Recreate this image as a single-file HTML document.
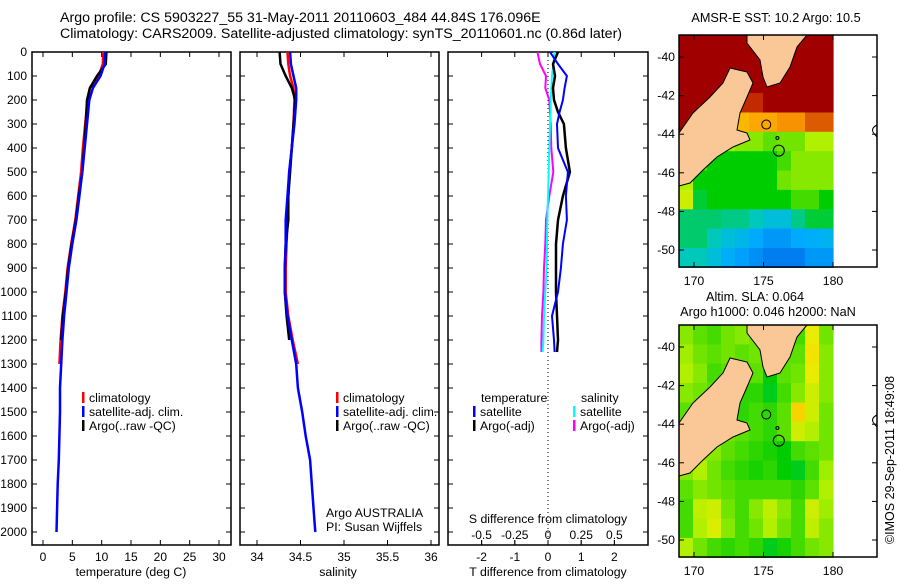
<!DOCTYPE html>
<html><head><meta charset="utf-8"><style>
body{margin:0;background:#fff}
svg text{font-family:"Liberation Sans",sans-serif;fill:#000}
</style></head><body>
<svg id="c" width="900" height="580" xmlns="http://www.w3.org/2000/svg">
<text x="60" y="22" font-size="14.2">Argo profile: CS 5903227_55 31-May-2011 20110603_484 44.84S 176.096E</text>
<text x="60" y="38" font-size="14.2">Climatology: CARS2009. Satellite-adjusted climatology: synTS_20110601.nc (0.86d later)</text>
<text x="776" y="22" font-size="12.7" text-anchor="middle">AMSR-E SST: 10.2 Argo: 10.5</text>
<text x="755" y="301" font-size="12.7" text-anchor="middle">Altim. SLA: 0.064</text>
<text x="768" y="316" font-size="12.7" text-anchor="middle">Argo h1000: 0.046 h2000: NaN</text>
<text x="0" y="0" font-size="12.5" text-anchor="middle" transform="translate(894,460) rotate(-90)">©IMOS 29-Sep-2011 18:49:08</text>
<g id="g"></g>
</svg>
<script>
// depths (m)
const depthsT = [0,50,100,150,200,300,400,500,600,700,800,900,1000,1100,1200,1300,1400,1500,1600,1700,1800,1900,2000];
const tempClim = [10.3,10.2,9.5,8.0,7.6,7.2,6.8,6.5,6.0,5.5,4.8,4.2,3.8,3.3,3.0,2.8];
const tempSat = [10.6,10.5,9.8,8.5,7.9,7.5,7.1,6.7,6.2,5.7,5.0,4.4,4.0,3.6,3.3,3.1,2.9,2.9,2.8,2.7,2.5,2.4,2.3];
const tempArgo = [10.8,10.7,9.2,8.0,7.5,7.3,7.0,6.7,6.1,5.6,4.9,4.3,3.9,3.4,3.1];
const salClim = [34.35,34.36,34.38,34.42,34.43,34.42,34.40,34.37,34.36,34.35,34.34,34.33,34.33,34.36,34.41,34.47];
const salSat = [34.38,34.39,34.42,34.45,34.45,34.43,34.40,34.37,34.35,34.33,34.33,34.32,34.32,34.35,34.40,34.45,34.47,34.52,34.56,34.61,34.63,34.65,34.67];
const salArgo = [34.26,34.27,34.33,34.40,34.44,34.42,34.40,34.38,34.36,34.36,34.33,34.32,34.32,34.34,34.37];
const depthsD = [0,50,100,150,200,250,300,400,500,600,700,800,900,1000,1100,1200,1250];
const dTsat = [0.06,0.3,0.57,0.5,0.45,0.35,0.27,0.3,0.6,0.54,0.57,0.45,0.39,0.3,0.12,0.18,0.2];
const dTargo = [0.3,0.15,0.21,0.15,0.18,0.3,0.48,0.54,0.66,0.45,0.3,0.24,0.24,0.24,0.27,0.3,0.27];
const dSsat = [0.05,0.04,0.03,0.025,0.02,0.02,0.015,0.01,0.005,0,-0.005,-0.008,-0.01,-0.02,-0.03,-0.035,-0.04];
const dSargo = [-0.08,-0.06,-0.015,-0.02,0.01,0.015,0.02,0.025,0.04,0.01,-0.015,-0.02,-0.03,-0.035,-0.045,-0.05,-0.05];
const depthTicks = [0,100,200,300,400,500,600,700,800,900,1000,1100,1200,1300,1400,1500,1600,1700,1800,1900,2000];
const tempTicks = [0,5,10,15,20,25,30];
const salTicks = [34,34.5,35,35.5,36];
const dTTicks = [-2,-1,0,1,2];
const dSTicks = [-0.5,-0.25,0,0.25,0.5];
const lonTicks = [170,175,180];
const latTicks = [-40,-42,-44,-46,-48,-50];
const sstGrid = [
[14,14,14,14,14,14,14,14,14,14,14],
[14,14,14,14,14,14,14,14,14,14,14],
[14,14,14,14,13,13,14,14,14,14,14],
[13.5,13.5,13.5,12.6,12.2,12.2,12.6,13.3,14,14,14],
[12.6,12.2,11.8,11.6,11.6,11.7,11.7,11.8,11.8,12,12],
[11.4,11.1,10.9,10.7,10.6,10.6,10.4,10.5,10.5,10.8,10.8],
[10.8,10.4,10,10,10,10,10,10.3,10.6,10.6,10.6],
[10.8,10,10,10,10,10,10,10.5,10.6,10.6,10.6],
[11,9.8,10,10,10,10,10,10,10.3,10.3,10],
[9.6,9.6,9.6,9.5,9.5,9.3,9,9,9.5,9.8,9.8],
[9.6,9.6,9.3,9,8.8,8.5,8.3,8.3,8.5,8.6,8.7],
[9.3,9.3,9,8.6,8.4,8.2,8,8,8,8.3,8.3]];
const slaGrid = [
[.06,.04,.03,.05,.06,.05,.02,.05,.03,.12,.05],
[.07,.05,.04,.05,.04,.05,.01,.04,.04,.13,.06],
[.08,.06,.03,.04,.03,.04,.00,.04,.05,.12,.06],
[.06,.05,.04,.03,.02,.02,-.01,.03,.06,.10,.06],
[.04,.05,.04,.02,.02,.03,.02,.04,.14,.10,.05],
[.03,.04,.05,.05,.04,.03,.02,.04,.10,.08,.05],
[.05,.06,.06,.04,.03,.02,.01,.00,.03,.04,.05],
[.06,.08,.05,.03,.02,.01,.02,.00,-.01,.03,.07],
[.04,.06,.05,.04,.03,.03,.03,.03,.02,.04,.08],
[.03,.09,.10,.05,.03,.06,.09,.06,.03,.10,.07],
[.03,.08,.11,.06,.03,.05,.08,.05,.03,.09,.06],
[.08,.05,.03,.02,.03,.02,-.01,.01,.03,.05,.06]];

const NS='http://www.w3.org/2000/svg';
const G=document.getElementById('g');
function el(t,a,p){const e=document.createElementNS(NS,t);for(const k in a)e.setAttribute(k,a[k]);(p||G).appendChild(e);return e;}
function txt(x,y,s,sz,anc){const e=el('text',{x:x,y:y,'font-size':sz||12,'text-anchor':anc||'start'});e.textContent=s;return e;}
const yD=d=>52+d*0.24;
const xT=v=>43+v*5.867;
const xS=v=>257+(v-34)*87;
const xDT=v=>548+v*33.2;
const xDS=v=>548+v*132.8;

function panel(x0,x1,name){
  const r=el('rect',{x:x0,y:52,width:x1-x0,height:493,fill:'none',stroke:'#000','stroke-width':1.5});
  
  
  depthTicks.forEach(d=>{el('line',{x1:x0,x2:x0+5,y1:yD(d),y2:yD(d),stroke:'#000'});el('line',{x1:x1-5,x2:x1,y1:yD(d),y2:yD(d),stroke:'#000'});});
}
function line(xs,ds,fx,col,name,w){
  const pts=xs.map((v,i)=>fx(v).toFixed(1)+','+yD(ds[i]).toFixed(1)).join(' ');
  const p=el('polyline',{points:pts,fill:'none',stroke:col,'stroke-width':w||2.5});
  
  
}
// Panel 1
panel(32,231,'temperature-panel');
depthTicks.forEach(d=>{const t=txt(27,yD(d)+4,String(d),12,'end');});
tempTicks.forEach(v=>{el('line',{x1:xT(v),x2:xT(v),y1:545,y2:540,stroke:'#000'});el('line',{x1:xT(v),x2:xT(v),y1:52,y2:57,stroke:'#000'});const t=txt(xT(v),561,String(v),12,'middle');});
line(tempClim,depthsT,xT,'#ff0000','temp-climatology-line');
line(tempArgo,depthsT,xT,'#000','temp-argo-line');
line(tempSat,depthsT,xT,'#0000ff','temp-satellite-line');
txt(131,576,'temperature (deg C)',12.3,'middle');
// Panel 2
panel(240,439,'salinity-panel');
salTicks.forEach(v=>{el('line',{x1:xS(v),x2:xS(v),y1:545,y2:540,stroke:'#000'});el('line',{x1:xS(v),x2:xS(v),y1:52,y2:57,stroke:'#000'});const t=txt(xS(v),561,String(v),12,'middle');});
line(salClim,depthsT,xS,'#ff0000','sal-climatology-line');
line(salArgo,depthsT,xS,'#000','sal-argo-line');
line(salSat,depthsT,xS,'#0000ff','sal-satellite-line');
txt(338,576,'salinity',12.3,'middle');
txt(326,517,'Argo AUSTRALIA',12.3);txt(326,531,'PI: Susan Wijffels',12.3);
function legend(x,y,items){items.forEach((it,i)=>{el('rect',{x:x,y:y+i*14-10,width:2.5,height:11,fill:it[1]});const t=txt(x+7,y+i*14,it[0],12.3);});}
legend(82,402,[['climatology','#ff0000'],['satellite-adj. clim.','#0000ff'],['Argo(..raw -QC)','#000']]);
legend(336,402,[['climatology','#ff0000'],['satellite-adj. clim.','#0000ff'],['Argo(..raw -QC)','#000']]);
// Panel 3
panel(448,648,'difference-panel');
el('line',{x1:548,x2:548,y1:52,y2:545,stroke:'#000','stroke-dasharray':'1,3'});
dTTicks.forEach(v=>{el('line',{x1:xDT(v),x2:xDT(v),y1:545,y2:540,stroke:'#000'});el('line',{x1:xDT(v),x2:xDT(v),y1:52,y2:57,stroke:'#000'});txt(xDT(v),561,String(v),12,'middle');});
dSTicks.forEach(v=>{el('line',{x1:xDS(v),x2:xDS(v),y1:545,y2:540,stroke:'#000'});txt(xDS(v),539,String(v),12,'middle');});
line(dSargo,depthsD,xDS,'#ff00ff','sdiff-argo-line',2);
line(dSsat,depthsD,xDS,'#00ffff','sdiff-satellite-line',2);
line(dTargo,depthsD,xDT,'#000','tdiff-argo-line',2.5);
line(dTsat,depthsD,xDT,'#0000ff','tdiff-satellite-line',2);
txt(548,523,'S difference from climatology',12.3,'middle');
txt(548,576,'T difference from climatology',12.3,'middle');
txt(481,402,'temperature',12.3);txt(581,402,'salinity',12.3);
legend(473,416,[['satellite','#0000ff'],['Argo(-adj)','#000']]);
legend(573,416,[['satellite','#00ffff'],['Argo(-adj)','#ff00ff']]);

// Maps
const stops=[[0,[0,80,220]],[0.2,[0,170,255]],[0.35,[0,200,200]],[0.5,[0,205,0]],[0.65,[170,240,0]],[0.75,[240,235,0]],[0.85,[255,160,0]],[0.93,[200,50,0]],[1,[160,0,0]]];
function cmap(t){t=Math.max(0,Math.min(1,t));for(let i=1;i<stops.length;i++){if(t<=stops[i][0]){const a=stops[i-1],b=stops[i],f=(t-a[0])/(b[0]-a[0]);const c=a[1].map((v,k)=>Math.round(v+(b[1][k]-v)*f));return 'rgb('+c.join(',')+')';}}return 'rgb(160,0,0)';}
const sIsl=[[679,133],[693,113],[710,97],[723,83],[730,68],[747,72],[753,83],[747,97],[740,113],[737,130],[747,133],[750,140],[733,147],[717,157],[703,170],[690,183],[679,186]];
const nIsl=[[747,35],[747,43],[760,60],[763,77],[767,87],[780,83],[790,67],[797,47],[807,35]];
function map(top,grid,tf,name){
  const lonX=l=>694+(l-170)*13.9;
  const latY=l=>top+22+(-40-l)*19.3;
  const g=el('g',{});
  
  
  const lon0=168.92,step=(180-lon0)/11,lat0=-38.86,lstep=12.04/12;
  grid.forEach((row,r)=>row.forEach((v,c)=>{
    const x=lonX(lon0+c*step),y=latY(lat0-r*lstep);
    const cell=el('rect',{x:x.toFixed(1),y:y.toFixed(1),width:(step*13.9+0.6).toFixed(1),height:(lstep*19.3+0.6).toFixed(1),fill:cmap(tf(v))},g);
    
    
  }));
  const off=top-35;
  [sIsl,nIsl].forEach(p=>el('polygon',{points:p.map(q=>q[0]+','+(q[1]+off)).join(' '),fill:'#fac896',stroke:'#000','stroke-width':1},g));
  el('circle',{cx:lonX(175.2),cy:latY(-43.5),r:4.5,fill:'none',stroke:'#000'},g);
  el('circle',{cx:lonX(176),cy:latY(-44.2),r:1.5,fill:'none',stroke:'#000'},g);
  el('circle',{cx:lonX(176.1),cy:latY(-44.85),r:5.5,fill:'none',stroke:'#000'},g);
  el('path',{d:'M877 '+(125+off)+' q-6 3 -4 7 q2 3 4 5',fill:'none',stroke:'#000'},g);
  el('rect',{x:679,y:top,width:198,height:232,fill:'none',stroke:'#000','stroke-width':1.5},g);
  lonTicks.forEach(l=>{el('line',{x1:lonX(l),x2:lonX(l),y1:top+232,y2:top+227,stroke:'#000'},g);el('line',{x1:lonX(l),x2:lonX(l),y1:top,y2:top+5,stroke:'#000'},g);const t=txt(lonX(l),top+250,String(l),12.3,'middle');});
  latTicks.forEach(l=>{el('line',{x1:679,x2:684,y1:latY(l),y2:latY(l),stroke:'#000'},g);el('line',{x1:872,x2:877,y1:latY(l),y2:latY(l),stroke:'#000'},g);const t=txt(675,latY(l)+4,String(l),12.3,'end');});
}
map(35,sstGrid,v=>(v-7.5)/5,'sst-map');
map(325,slaGrid,v=>0.5+v*2,'sla-map');
</script>
</body></html>
